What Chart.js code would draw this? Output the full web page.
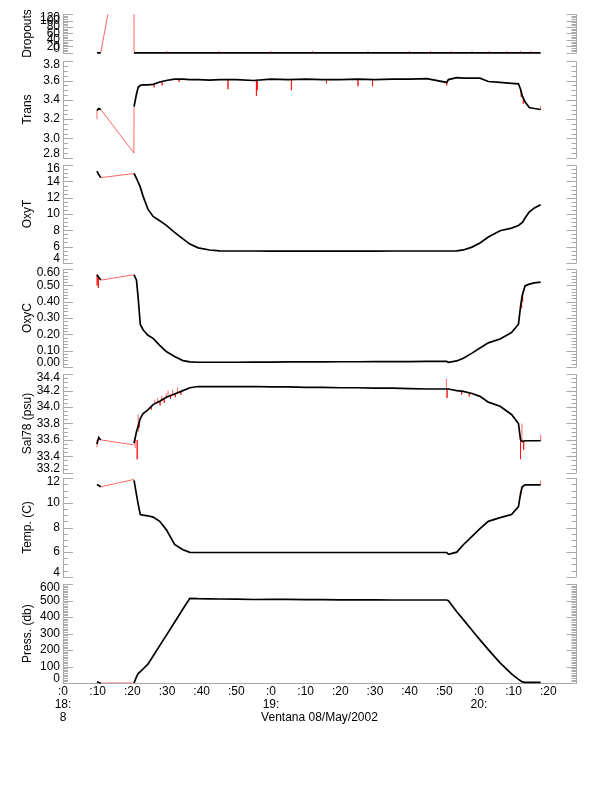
<!DOCTYPE html>
<html>
<head>
<meta charset="utf-8">
<script src="https://cdn.jsdelivr.net/npm/chart.js@4.4.1/dist/chart.umd.min.js"></script>
<style>
  body { margin: 0; background: #fff; }
  #wrap { position: relative; width: 612px; height: 785px; }
  #wrap canvas { position: absolute; left: 0; }
</style>
</head>
<body>
<div id="wrap"></div>
<script>
// minutes after 18:00, shared by the cleaned (black) series; null at 15 = data gap
const minutes = [9.8, 10.3, 10.9, 15,
  20.5, 21.2, 21.7, 22.3, 23.1, 24.5, 26.0, 27.9, 29.8, 32.2, 34.6, 36.6, 39.0, 42.3, 45.2,
  50, 55, 60, 65, 70, 75, 80, 85, 90, 95, 100, 105,
  110.7, 111.2, 113.6, 115.5, 118.0, 120.3, 122.7, 126.1, 129.4, 131.4, 132.0, 132.5, 133.3, 134.5, 136.0, 137.8];

const dropouts = [0, 0, 0, null,
  0, 0, 0, 0, 0, 0, 0, 0, 0, 0, 0, 0, 0, 0, 0,
  0, 0, 0, 0, 0, 0, 0, 0, 0, 0, 0, 0,
  0, 0, 0, 0, 0, 0, 0, 0, 0, 0, 0, 0, 0, 0, 0, 0];
const trans = [3.29, 3.31, 3.30, null,
  3.33, 3.46, 3.53, 3.55, 3.555, 3.555, 3.56, 3.585, 3.60, 3.615, 3.615, 3.61, 3.61, 3.605, 3.61,
  3.61, 3.60, 3.615, 3.61, 3.615, 3.61, 3.61, 3.615, 3.61, 3.615, 3.615, 3.62,
  3.58, 3.61, 3.63, 3.625, 3.625, 3.625, 3.59, 3.58, 3.57, 3.565, 3.51, 3.44, 3.38, 3.32, 3.31, 3.30];
const oxyT = [15.26, 14.85, 14.47, null,
  14.98, 14.39, 13.9, 13.3, 12.2, 10.6, 9.7, 9.18, 8.6, 7.75, 6.95, 6.3, 5.84, 5.57, 5.47,
  5.45, 5.45, 5.44, 5.44, 5.44, 5.44, 5.44, 5.44, 5.44, 5.45, 5.45, 5.45,
  5.45, 5.45, 5.46, 5.58, 5.93, 6.44, 7.17, 7.94, 8.27, 8.58, 8.8, 8.94, 9.5, 10.25, 10.75, 11.14];
const oxyC = [0.566, 0.55, 0.533, null,
  0.566, 0.533, 0.42, 0.26, 0.228, 0.194, 0.175, 0.132, 0.094, 0.064, 0.038, 0.03, 0.028, 0.028, 0.028,
  0.028, 0.029, 0.029, 0.03, 0.03, 0.03, 0.031, 0.031, 0.032, 0.032, 0.032, 0.033,
  0.033, 0.028, 0.036, 0.053, 0.084, 0.115, 0.147, 0.171, 0.211, 0.262, 0.37, 0.44, 0.497, 0.508, 0.516, 0.52];
const sal = [33.55, 33.63, 33.60, null,
  33.56, 33.7, 33.77, 33.86, 33.92, 33.965, 34.03, 34.07, 34.12, 34.16, 34.2, 34.235, 34.25, 34.25, 34.25,
  34.25, 34.25, 34.245, 34.245, 34.24, 34.24, 34.235, 34.235, 34.23, 34.23, 34.225, 34.22,
  34.22, 34.22, 34.2, 34.19, 34.165, 34.13, 34.06, 34.01, 33.91, 33.8, 33.6, 33.58, 33.59, 33.59, 33.59, 33.59];
const temp = [11.48, 11.4, 11.3, null,
  11.82, 10.66, 9.88, 9.05, 9.0, 8.95, 8.84, 8.5, 7.83, 6.62, 6.2, 5.98, 5.97, 5.97, 5.97,
  5.97, 5.97, 5.97, 5.97, 5.97, 5.97, 5.97, 5.97, 5.97, 5.97, 5.97, 5.97,
  5.97, 5.82, 6.0, 6.6, 7.28, 7.9, 8.5, 8.8, 9.05, 9.7, 10.75, 11.3, 11.46, 11.46, 11.46, 11.46];
const press = [8, 3, 0, null,
  0, 38, 57, 69, 85, 114, 164, 227, 289, 369, 449, 514, 512, 511, 510,
  509, 507, 508, 508, 506, 506, 505, 505, 505, 504, 504, 504,
  504, 500, 433, 385, 320, 262, 203, 122, 55, 22, 14, 7, 4, 4, 4, 4];

// raw (red) records across the gap
const dropGapT = [10.9, 20.4, 20.5];         const dropGap = [0, 560, 0];
const transGapT = [9.8, 9.8, 10.3, 10.9, 20.45, 20.5]; const transGap = [3.20, 3.29, 3.31, 3.30, 2.85, 3.33];
const oxyTGapT = [10.9, 20.5];               const oxyTGap = [14.47, 14.98];
const oxyCGapT = [10.9, 20.5];               const oxyCGap = [0.533, 0.566];
const salGapT = [10.9, 20.4];                const salGap = [33.60, 33.54];
const tempGapT = [10.9, 20.5];               const tempGap = [11.3, 11.9];
const pressGapT = [10.9, 20.5];              const pressGap = [0, 0];

// raw (red) spikes: time, from, to
const dropSpikeT = [30, 45, 60, 72, 88, 100, 106, 112, 118, 123, 128, 132, 135];
const dropSpikeA = [0, 0, 0, 0, 0, 0, 0, 0, 0, 0, 0, 0, 0];
const dropSpikeB = [6, 6, 6, 6, 6, 6, 6, 6, 6, 6, 6, 6, 6];
const transSpikeT = [26.3, 28.6, 33.5, 47.6, 55.8, 56.1, 65.9, 76.0, 85.1, 89.3, 110.7, 132.2, 132.8, 137.8];
const transSpikeA = [3.555, 3.585, 3.615, 3.61, 3.61, 3.60, 3.61, 3.61, 3.615, 3.61, 3.59, 3.50, 3.42, 3.30];
const transSpikeB = [3.53, 3.55, 3.585, 3.51, 3.44, 3.50, 3.50, 3.57, 3.54, 3.54, 3.55, 3.43, 3.36, 3.335];
const oxyCSpikeT = [9.85, 10.2, 132.3, 132.6];
const oxyCSpikeA = [0.566, 0.55, 0.42, 0.46];
const oxyCSpikeB = [0.50, 0.484, 0.36, 0.40];
const salSpikeT = [9.8, 20.8, 21.4, 21.7, 22.0, 25.5, 26.5, 27.3, 28.0, 28.5, 29.2, 29.8, 30.3, 31.0, 31.6, 32.4, 33.0, 34.0,
  110.6, 110.8, 115.0, 117.2, 132.0, 132.4, 132.9, 137.8];
const salSpikeA = [33.51, 33.50, 33.60, 33.70, 33.82, 34.02, 34.04, 34.06, 34.07, 34.08, 34.10, 34.12, 34.14, 34.15, 34.16, 34.17, 34.18, 34.19,
  34.22, 34.22, 34.19, 34.17, 33.62, 33.58, 33.59, 33.59];
const salSpikeB = [33.60, 33.60, 33.365, 33.91, 33.75, 33.97, 34.09, 34.11, 34.02, 34.14, 34.05, 34.17, 34.20, 34.10, 34.21, 34.12, 34.24, 34.15,
  34.345, 34.11, 34.15, 34.13, 33.365, 33.80, 33.48, 33.66];
const tempSpikeT = [132.2, 137.8];
const tempSpikeA = [10.6, 11.46];
const tempSpikeB = [11.3, 11.8];

// tick labels
const dropTicks = [0, 20, 40, 60, 80, 100, 120];
const transTicks = [2.8, 3.0, 3.2, 3.4, 3.6, 3.8];
const oxyTTicks = [4, 6, 8, 10, 12, 14, 16];
const oxyCTicks = [0, 0.1, 0.2, 0.3, 0.4, 0.5, 0.6];
const salTicks = [33.2, 33.4, 33.6, 33.8, 34.0, 34.2, 34.4];
const tempTicks = [4, 6, 8, 10, 12];
const pressTicks = [0, 100, 200, 300, 400, 500, 600];
const timeTicks = [0, 10, 20, 30, 40, 50, 60, 70, 80, 90, 100, 110, 120, 130, 140];

const panels = [
  {title: 'Dropouts', top: 12, bottom: 55, ticks: dropTicks, minor: 5, dec: 0, black: dropouts,
   gapT: dropGapT, gap: dropGap, spT: dropSpikeT, spA: dropSpikeA, spB: dropSpikeB},
  {title: 'Trans', top: 59, bottom: 160, ticks: transTicks, minor: 0.05, dec: 1, black: trans,
   gapT: transGapT, gap: transGap, spT: transSpikeT, spA: transSpikeA, spB: transSpikeB},
  {title: 'OxyT', top: 163, bottom: 265, ticks: oxyTTicks, minor: 0.5, dec: 0, black: oxyT,
   gapT: oxyTGapT, gap: oxyTGap, spT: [], spA: [], spB: []},
  {title: 'OxyC', top: 267, bottom: 369, ticks: oxyCTicks, minor: 0.02, dec: 2, black: oxyC,
   gapT: oxyCGapT, gap: oxyCGap, spT: oxyCSpikeT, spA: oxyCSpikeA, spB: oxyCSpikeB},
  {title: 'Sal78 (psu)', top: 372, bottom: 475, ticks: salTicks, minor: 0.05, dec: 1, black: sal,
   gapT: salGapT, gap: salGap, spT: salSpikeT, spA: salSpikeA, spB: salSpikeB},
  {title: 'Temp. (C)', top: 476, bottom: 579, ticks: tempTicks, minor: 0.5, dec: 0, black: temp,
   gapT: tempGapT, gap: tempGap, spT: tempSpikeT, spA: tempSpikeA, spB: tempSpikeB},
  {title: 'Press. (db)', top: 582, bottom: 683, ticks: pressTicks, minor: 10, dec: 0, black: press,
   gapT: pressGapT, gap: pressGap, spT: [], spA: [], spB: []}
];

const FONT = {family: "'Liberation Sans', Arial, Helvetica, sans-serif", size: 12};
const AXIS_GREY = '#aaaaaa';
const RAW_RED = 'rgba(255,0,0,0.6)';
const PAD = 8;
const PAGE_BOTTOM = 730;

Chart.defaults.font.family = FONT.family;
Chart.defaults.font.size = FONT.size;
Chart.defaults.color = '#000';

// inward tick marks on both y axes, right axis line, edge labels kept inside the panel
const axisMarks = {
  id: 'axisMarks',
  beforeDraw(chart) {
    const a = chart.chartArea;
    chart.scales.y.getLabelItems().forEach(item => {
      const tr = item.options.translation;
      tr[1] = Math.min(Math.max(tr[1], a.top + 3), a.bottom - 4.5);
    });
  },
  afterDraw(chart, args, opts) {
    const {ctx, chartArea: a, scales: {y}} = chart;
    const n = Math.round((y.max - y.min) / opts.minor);
    const xl = Math.round(a.left), xr = Math.round(a.right) + 0.5;
    ctx.save();
    ctx.strokeStyle = AXIS_GREY;
    ctx.lineWidth = 1;
    ctx.beginPath();
    ctx.moveTo(xr, a.top);
    ctx.lineTo(xr, a.bottom);
    for (let i = 0; i <= n; i++) {
      const v = y.min + i * opts.minor;
      const major = opts.majors.some(m => Math.abs(m - v) < opts.minor / 4);
      const len = major ? 10 : 5;
      const py = Math.round(y.getPixelForValue(v)) + 0.5;
      ctx.moveTo(xl, py); ctx.lineTo(xl + len, py);
      ctx.moveTo(xr, py); ctx.lineTo(xr - len, py);
    }
    ctx.stroke();
    ctx.restore();
  }
};

function points(t, v) {
  return t.map((x, i) => ({x: x, y: v[i]}));
}

function spikes(t, a, b) {
  const out = [];
  t.forEach((x, i) => {
    out.push({x: x, y: a[i]}, {x: x, y: b[i]}, {x: x, y: null});
  });
  return out;
}

function timeLabel(v) {
  if (v === 0) return [':0', '18:', '8'];
  if (v % 60 === 0) return [':0', (18 + v / 60) + ':'];
  return ':' + (v % 60);
}

function makePanel(p, isBottom) {
  const top = p.top - PAD;
  const bottom = isBottom ? PAGE_BOTTOM : p.bottom + PAD;
  const cv = document.createElement('canvas');
  cv.width = 612;
  cv.height = bottom - top;
  cv.style.top = top + 'px';
  document.getElementById('wrap').appendChild(cv);

  const line = {pointRadius: 0, tension: 0, spanGaps: false};
  const xScale = {
    type: 'linear', min: 0, max: 148,
    display: isBottom,
    afterBuildTicks: s => { s.ticks = timeTicks.map(v => ({value: v})); },
    grid: {display: false, drawTicks: false},
    border: {display: true, color: AXIS_GREY},
    ticks: {autoSkip: false, maxRotation: 0, padding: 2.5, color: '#000',
            font: {size: 12, lineHeight: '13px'}, callback: timeLabel},
    title: {display: true, text: 'Ventana 08/May/2002', color: '#000',
            font: {size: 12, lineHeight: '13px'}, padding: {top: 0, bottom: 5.5}}
  };
  if (isBottom) {
    xScale.afterFit = s => { s.height = PAGE_BOTTOM - p.bottom; };
  }

  new Chart(cv, {
    type: 'line',
    data: {
      datasets: [
        Object.assign({data: points(minutes, p.black), borderColor: '#000', borderWidth: 1.7, clip: 3}, line),
        Object.assign({data: points(p.gapT, p.gap), borderColor: RAW_RED, borderWidth: 1}, line),
        Object.assign({data: spikes(p.spT, p.spA, p.spB), borderColor: RAW_RED, borderWidth: 1}, line)
      ]
    },
    options: {
      responsive: false,
      animation: false,
      events: [],
      layout: {padding: {top: PAD, bottom: isBottom ? 0 : PAD, left: 0, right: 36}},
      plugins: {
        legend: {display: false},
        tooltip: {enabled: false},
        axisMarks: {minor: p.minor, majors: p.ticks}
      },
      scales: {
        x: xScale,
        y: {
          min: p.ticks[0], max: p.ticks[p.ticks.length - 1],
          afterBuildTicks: s => { s.ticks = p.ticks.map(v => ({value: v})); },
          afterFit: s => { s.width = 63; },
          grid: {display: false, drawTicks: false},
          border: {display: true, color: AXIS_GREY},
          ticks: {autoSkip: false, padding: 3, color: '#000', callback: v => v.toFixed(p.dec)},
          title: {display: true, text: p.title, color: '#000', padding: {top: 20, bottom: 0}}
        }
      }
    },
    plugins: [axisMarks]
  });
}

panels.forEach((p, i) => makePanel(p, i === panels.length - 1));
</script>
</body>
</html>
